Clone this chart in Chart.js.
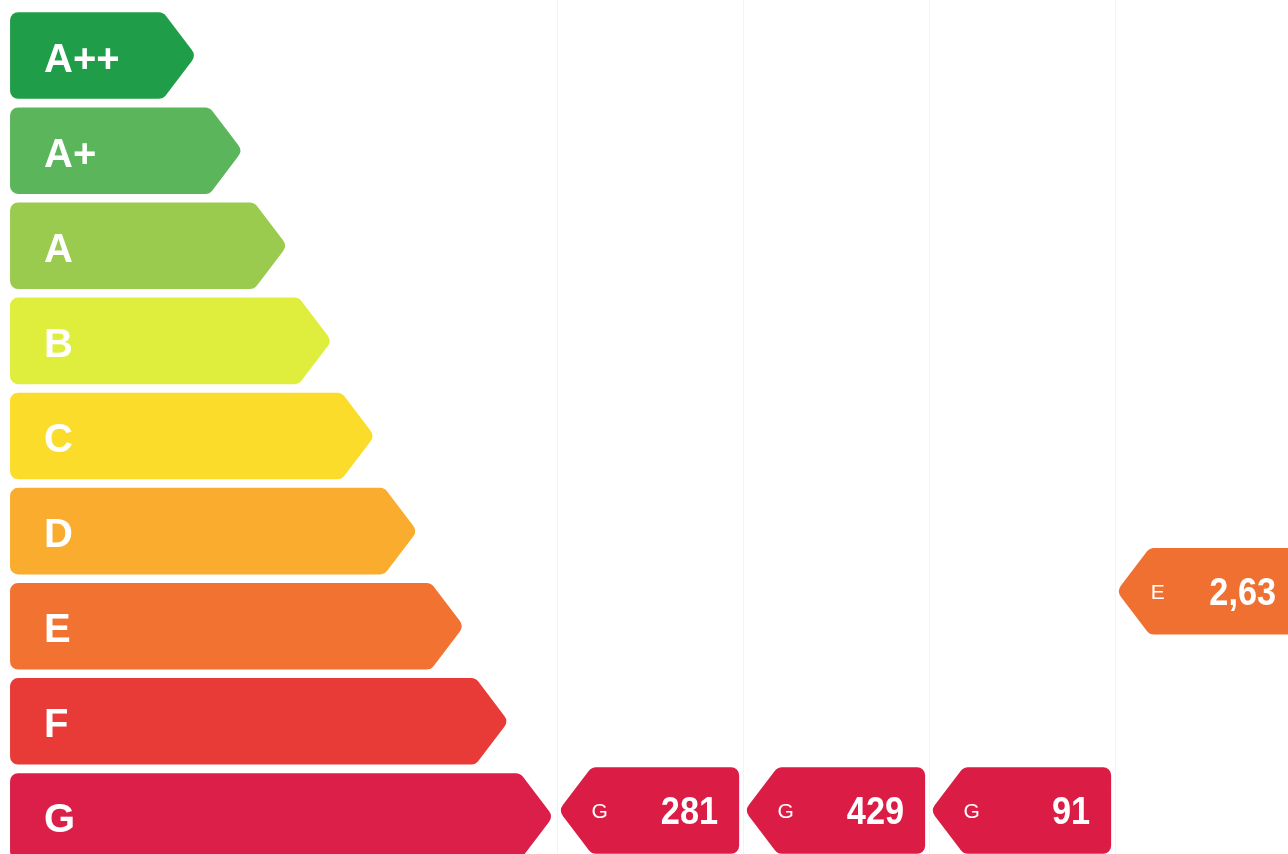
<!DOCTYPE html>
<html><head><meta charset="utf-8">
<script src="https://cdn.jsdelivr.net/npm/chart.js@4/dist/chart.umd.min.js"></script>
<style>html,body{margin:0;padding:0;background:#fff;overflow:hidden}#wrap{width:1288px;height:864px}</style>
</head><body><div id="wrap"><canvas id="c"></canvas></div>
<script>
// ---- data ----
const grades = ['A++', 'A+', 'A', 'B', 'C', 'D', 'E', 'F', 'G'];
const gradeLengths = [1.00, 1.25, 1.49, 1.73, 1.96, 2.19, 2.44, 2.68, 2.92];
const gradeColors = ['#1f9d48', '#5bb55a', '#9acb4f', '#dfee3c', '#fcdc2b', '#faac2e', '#f27232', '#e83a37', '#db1f48'];
const gTagValues = [281, 429, 91];
const gTagColumns = [3, 4, 5];
const eTagValues = [2.63];
const eTagColumns = [6];
const gridColumns = [3, 4, 5, 6];

function fmt(v) { return Number.isInteger(v) ? String(v) : v.toFixed(2).replace('.', ','); }
function tagData(grade, cols, vals) {
  return cols.map((c, i) => ({ y: grade, x: [c - 0.05, c + 0.92], v: vals[i] }));
}

function roundedPoly(ctx, pts) {
  const n = pts.length;
  ctx.beginPath();
  ctx.moveTo((pts[0][0] + pts[1][0]) / 2, (pts[0][1] + pts[1][1]) / 2);
  for (let i = 1; i <= n; i++) {
    const a = pts[i % n], b = pts[(i + 1) % n];
    ctx.arcTo(a[0], a[1], b[0], b[1], a[2]);
  }
  ctx.closePath();
}

const energyPlugin = {
  id: 'energy',
  beforeDatasetsDraw(chart) {
    const ctx = chart.ctx, xs = chart.scales.x;
    ctx.save();
    ctx.strokeStyle = 'rgba(0,0,0,0.045)';
    ctx.lineWidth = 1;
    gridColumns.forEach(c => {
      const px = Math.round(xs.getPixelForValue(c - 0.06)) + 0.5;
      ctx.beginPath(); ctx.moveTo(px, 0); ctx.lineTo(px, chart.height); ctx.stroke();
    });
    chart.data.datasets.forEach((ds, di) => {
      const meta = chart.getDatasetMeta(di);
      meta.data.forEach((el, i) => {
        const p = el.getProps(['x', 'y', 'base', 'height'], true);
        const color = Array.isArray(ds.backgroundColor) ? ds.backgroundColor[i] : ds.backgroundColor;
        const h = p.height, cy = p.y + (ds.yShift || 0);
        const t = cy - h / 2, b = cy + h / 2;
        const x0 = Math.min(p.base, p.x), x1 = Math.max(p.base, p.x);
        const L = h * 0.38;
        ctx.fillStyle = color;
        if (ds.kind === 'grade') {
          roundedPoly(ctx, [[x0, t, 8], [x1 - L, t, 9], [x1, cy, 9], [x1 - L, b, 9], [x0, b, 8]]);
          ctx.fill();
          ctx.fillStyle = '#fff';
          ctx.font = 'bold 40px "Liberation Sans", Arial, sans-serif';
          ctx.textAlign = 'left';
          ctx.textBaseline = 'alphabetic';
          ctx.fillText(grades[i], x0 + 34, cy + 16);
        } else {
          roundedPoly(ctx, [[x0, cy, 9], [x0 + L, t, 9], [x1, t, 8], [x1, b, 8], [x0 + L, b, 9]]);
          ctx.fill();
          ctx.fillStyle = '#fff';
          ctx.textBaseline = 'alphabetic';
          ctx.font = '21px "Liberation Sans", Arial, sans-serif';
          ctx.textAlign = 'center';
          ctx.fillText(ds.letter, x0 + 41, cy + 7.5);
          const item = ds.data[i];
          ctx.save();
          ctx.scale(0.88, 1);
          ctx.font = 'bold 39px "Liberation Sans", Arial, sans-serif';
          ctx.textAlign = 'right';
          ctx.fillText(fmt(item.v), (x1 - 21) / 0.88, cy + 14);
          ctx.restore();
        }
      });
    });
    ctx.restore();
    return false;
  }
};

new Chart(document.getElementById('c'), {
  type: 'bar',
  data: {
    labels: grades,
    datasets: [
      { kind: 'grade', data: gradeLengths, backgroundColor: gradeColors },
      { kind: 'tag', letter: 'G', yShift: -6, data: tagData('G', gTagColumns, gTagValues), backgroundColor: '#db1c44' },
      { kind: 'tag', letter: 'E', yShift: -35, data: tagData('E', eTagColumns, eTagValues), backgroundColor: '#f07031' }
    ]
  },
  options: {
    indexAxis: 'y',
    responsive: true,
    maintainAspectRatio: false,
    animation: false,
    layout: { padding: { top: 8, bottom: 0, left: 0, right: 0 } },
    datasets: { bar: { grouped: false, barPercentage: 0.91, categoryPercentage: 1 } },
    scales: {
      x: { type: 'linear', min: -0.054, max: 6.871, display: false },
      y: { type: 'category', display: false, offset: true }
    },
    plugins: { legend: { display: false }, tooltip: { enabled: false } }
  },
  plugins: [energyPlugin]
});
</script>
</body></html>
